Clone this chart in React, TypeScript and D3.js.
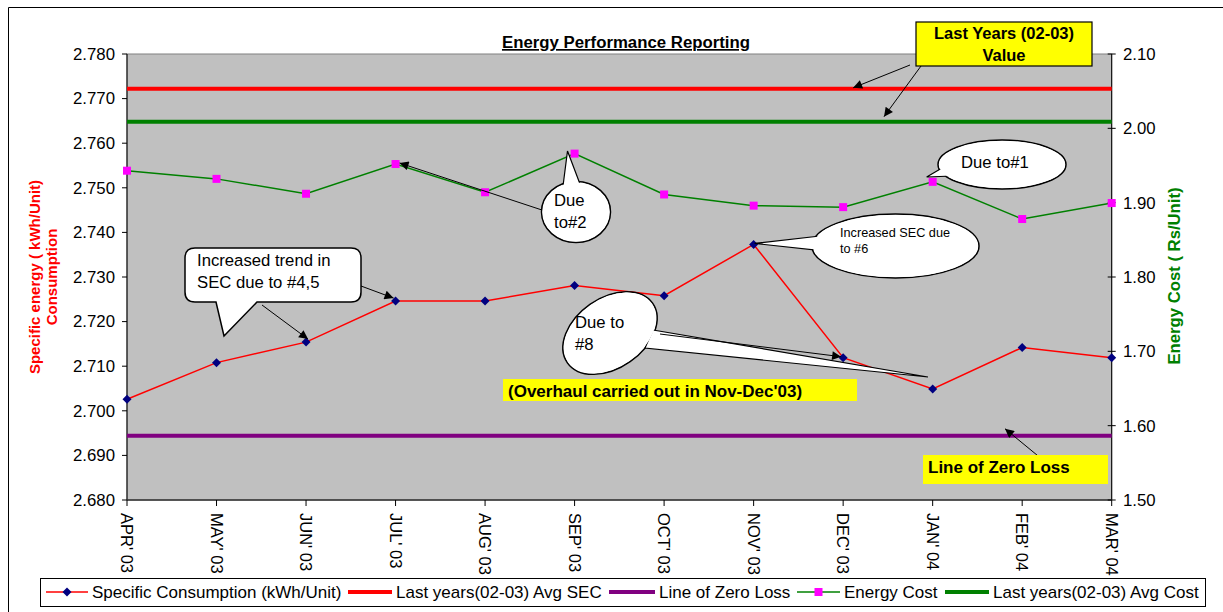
import React from 'react'
import * as d3 from 'd3'

const months = ["APR' 03", "MAY' 03", "JUN' 03", "JUL' 03", "AUG' 03", "SEP' 03", "OCT' 03", "NOV' 03", "DEC' 03", "JAN' 04", "FEB' 04", "MAR' 04"]
const secValues = [2.7026, 2.7108, 2.7154, 2.7246, 2.7246, 2.7281, 2.7258, 2.7373, 2.7119, 2.7049, 2.7142, 2.7119]
const costValues = [1.943, 1.932, 1.912, 1.952, 1.914, 1.966, 1.911, 1.896, 1.894, 1.928, 1.878, 1.8995]
const lastYearSec = 2.7722
const zeroLoss = 2.6944
const lastYearCost = 2.009
const leftTicks = [2.68, 2.69, 2.7, 2.71, 2.72, 2.73, 2.74, 2.75, 2.76, 2.77, 2.78]
const rightTicks = [1.5, 1.6, 1.7, 1.8, 1.9, 2.0, 2.1]

const legendItems = [
  { label: 'Specific Consumption (kWh/Unit)', x: 46, w: 42, color: '#ff0000', sw: 1.5, marker: 'diamond' },
  { label: 'Last years(02-03) Avg SEC', x: 348, w: 44, color: '#ff0000', sw: 4 },
  { label: 'Line of Zero Loss', x: 609, w: 46, color: '#800080', sw: 4 },
  { label: 'Energy Cost', x: 797, w: 43, color: '#008000', sw: 1.5, marker: 'square' },
  { label: 'Last years(02-03) Avg Cost', x: 945, w: 44, color: '#008000', sw: 4 },
]

const FONT = "'Liberation Sans', Arial, sans-serif"

function Diamond({ x, y }: { x: number; y: number }) {
  return <path d={`M${x},${y - 4.5}L${x + 4.5},${y}L${x},${y + 4.5}L${x - 4.5},${y}Z`} fill="#000080" />
}

function Square({ x, y }: { x: number; y: number }) {
  return <rect x={x - 4} y={y - 4} width={8} height={8} fill="#ff00ff" />
}

export default function App() {
  const left = 127
  const right = 1111.7
  const top = 54
  const bottom = 500

  const x = d3.scalePoint<string>().domain(months).range([left, right])
  const yL = d3.scaleLinear().domain([2.68, 2.78]).range([bottom, top])
  const yR = d3.scaleLinear().domain([1.5, 2.1]).range([bottom, top])

  const secLine = d3
    .line<number>()
    .x((_, i) => x(months[i]) as number)
    .y((d) => yL(d))
  const costLine = d3
    .line<number>()
    .x((_, i) => x(months[i]) as number)
    .y((d) => yR(d))

  const px = (i: number) => x(months[i]) as number

  return (
    <svg
      width={1223}
      height={612}
      style={{ position: 'absolute', left: 0, top: 0, background: '#fff' }}
      fontFamily={FONT}
    >
      <defs>
        <marker id="arr" viewBox="0 0 10 10" refX="10" refY="5" markerWidth="11" markerHeight="9" markerUnits="userSpaceOnUse" orient="auto">
          <path d="M0,0L10,5L0,10Z" fill="#000" />
        </marker>
      </defs>

      {/* outer chart border */}
      <path d="M8.5,612V7.5H1223" fill="none" stroke="#000" strokeWidth={1} />

      {/* plot area */}
      <rect x={left} y={top} width={right - left} height={bottom - top} fill="#c0c0c0" stroke="#808080" strokeWidth={1} />

      {/* title */}
      <text x={626} y={48} textAnchor="middle" fontSize={16.8} fontWeight="bold" textDecoration="underline">
        Energy Performance Reporting
      </text>

      {/* axes */}
      <line x1={left} x2={left} y1={top} y2={bottom} stroke="#000" />
      <line x1={right} x2={right} y1={top} y2={bottom} stroke="#000" />
      <line x1={left} x2={right} y1={bottom} y2={bottom} stroke="#333" strokeWidth={1.5} />
      {leftTicks.map((t) => (
        <g key={t}>
          <line x1={left - 5} x2={left} y1={yL(t)} y2={yL(t)} stroke="#000" />
          <text x={115} y={yL(t)} dy="0.35em" textAnchor="end" fontSize={16.8}>
            {t.toFixed(3)}
          </text>
        </g>
      ))}
      {rightTicks.map((t) => (
        <g key={t}>
          <line x1={right - 4} x2={right + 4} y1={yR(t)} y2={yR(t)} stroke="#000" />
          <text x={1123} y={yR(t)} dy="0.35em" textAnchor="start" fontSize={16.8}>
            {t.toFixed(2)}
          </text>
        </g>
      ))}
      {months.map((m) => (
        <g key={m}>
          <line x1={x(m)} x2={x(m)} y1={bottom} y2={bottom + 6} stroke="#000" />
          <text
            transform={`translate(${x(m)},${513}) rotate(90)`}
            dy="0.35em"
            textAnchor="start"
            fontSize={16.5}
          >
            {m}
          </text>
        </g>
      ))}

      {/* axis titles */}
      <text transform="translate(40,277) rotate(-90)" textAnchor="middle" fontSize={15} fontWeight="bold" fill="#ff0000">
        Specific energy ( kWh/Unit)
      </text>
      <text transform="translate(57,277) rotate(-90)" textAnchor="middle" fontSize={15} fontWeight="bold" fill="#ff0000">
        Consumption
      </text>
      <text transform="translate(1180,276) rotate(-90)" textAnchor="middle" fontSize={16.7} fontWeight="bold" fill="#008000">
        Energy Cost ( Rs/Unit)
      </text>

      {/* reference lines */}
      <line x1={left} x2={right} y1={yL(lastYearSec)} y2={yL(lastYearSec)} stroke="#ff0000" strokeWidth={4} />
      <line x1={left} x2={right} y1={yR(lastYearCost)} y2={yR(lastYearCost)} stroke="#008000" strokeWidth={4} />
      <line x1={left} x2={right} y1={yL(zeroLoss)} y2={yL(zeroLoss)} stroke="#800080" strokeWidth={4} />

      {/* series */}
      <path d={costLine(costValues) || ''} fill="none" stroke="#008000" strokeWidth={1.5} />
      {costValues.map((v, i) => (
        <Square key={i} x={px(i)} y={yR(v)} />
      ))}
      <path d={secLine(secValues) || ''} fill="none" stroke="#ff0000" strokeWidth={1.5} />
      {secValues.map((v, i) => (
        <Diamond key={i} x={px(i)} y={yL(v)} />
      ))}

      {/* Last Years box */}
      <line x1={910} y1={65} x2={px(8) + 10} y2={yL(lastYearSec) - 1} stroke="#000" markerEnd="url(#arr)" />
      <line x1={921} y1={66} x2={884} y2={yR(lastYearCost) - 5} stroke="#000" markerEnd="url(#arr)" />
      <rect x={916} y={22} width={176} height={44} fill="#ffff00" stroke="#000" strokeWidth={1.2} />
      <text x={1004} y={39} textAnchor="middle" fontSize={16.5} fontWeight="bold">Last Years (02-03)</text>
      <text x={1004} y={61} textAnchor="middle" fontSize={16.5} fontWeight="bold">Value</text>

      {/* Due to#2 */}
      <line x1={548} y1={212} x2={px(3) + 4} y2={yR(costValues[3]) - 1} stroke="#000" markerEnd="url(#arr)" />
      <ellipse cx={576} cy={212} rx={34.5} ry={30.5} fill="#fff" stroke="#000" strokeWidth={1.5} />
      <path d="M563,186L567.5,151L580,184Z" fill="#fff" stroke="#000" strokeWidth={1.2} />
      <ellipse cx={576} cy={212} rx={33.5} ry={29.5} fill="#fff" />
      <text x={554} y={206} fontSize={16.7}>Due</text>
      <text x={554} y={228} fontSize={16.7}>to#2</text>

      {/* Due to#1 */}
      <ellipse cx={1002} cy={164.5} rx={64} ry={24.5} fill="#fff" stroke="#000" strokeWidth={1.5} />
      <path d={`M942,168L${px(9) - 6},177L952,176Z`} fill="#fff" stroke="#000" strokeWidth={1.2} />
      <ellipse cx={1002} cy={164.5} rx={63} ry={23.5} fill="#fff" />
      <text x={961} y={168} fontSize={16.7}>Due to#1</text>

      {/* Increased SEC #6 */}
      <ellipse cx={895.5} cy={246} rx={83.5} ry={32} fill="#fff" stroke="#000" strokeWidth={1.5} />
      <path d={`M820,236L${px(7) + 1},${yL(secValues[7]) - 1}L816,250Z`} fill="#fff" stroke="#000" strokeWidth={1.2} />
      <ellipse cx={895.5} cy={246} rx={82.5} ry={31} fill="#fff" />
      <text x={840} y={237} fontSize={12.7}>Increased SEC due</text>
      <text x={840} y={253} fontSize={12.7}>to #6</text>

      {/* Increased trend callout */}
      <line x1={361} y1={286} x2={px(3) - 2} y2={yL(secValues[3]) - 3} stroke="#000" markerEnd="url(#arr)" />
      <line x1={262} y1={305} x2={px(2) + 2} y2={yL(secValues[2]) - 3} stroke="#000" markerEnd="url(#arr)" />
      <path
        d="M195,248H351Q361,248 361,258V292Q361,302 351,302H257L224,336L216,302H195Q185,302 185,292V258Q185,248 195,248Z"
        fill="#fff"
        stroke="#000"
        strokeWidth={1.5}
      />
      <text x={197} y={266} fontSize={16.7}>Increased trend in</text>
      <text x={197} y={288} fontSize={16.7}>SEC due to #4,5</text>

      {/* Due to #8 */}
      <ellipse cx={610} cy={333} rx={52} ry={35} transform="rotate(-35,610,333)" fill="#fff" stroke="#000" strokeWidth={1.5} />
      <path d="M653,330L928,377L645,348Z" fill="#fff" stroke="#000" strokeWidth={1.2} />
      <ellipse cx={610} cy={333} rx={51} ry={34} transform="rotate(-35,610,333)" fill="#fff" />
      <line x1={660} y1={334} x2={px(8) - 2} y2={yL(secValues[8]) - 1} stroke="#000" markerEnd="url(#arr)" />
      <text x={575} y={328} fontSize={16.7}>Due to</text>
      <text x={575} y={350} fontSize={16.7}>#8</text>

      {/* Overhaul */}
      <rect x={503} y={379} width={354} height={22} fill="#ffff00" />
      <text x={508} y={397} fontSize={17} fontWeight="bold">(Overhaul carried out in Nov-Dec'03)</text>

      {/* Line of zero loss */}
      <line x1={1043} y1={460} x2={1005} y2={yL(zeroLoss) - 7} stroke="#000" markerEnd="url(#arr)" />
      <rect x={923} y={455} width={185} height={29} fill="#ffff00" />
      <text x={928} y={473} fontSize={17} fontWeight="bold">Line of Zero Loss</text>

      {/* legend */}
      <rect x={40.5} y={578.5} width={1165} height={28} fill="#fff" stroke="#000" strokeWidth={1} />
      {legendItems.map((it) => (
        <g key={it.label}>
          <line x1={it.x} x2={it.x + it.w} y1={592} y2={592} stroke={it.color} strokeWidth={it.sw} />
          {it.marker === 'diamond' && <Diamond x={it.x + it.w / 2} y={592} />}
          {it.marker === 'square' && <Square x={it.x + it.w / 2} y={592} />}
          <text x={it.x + it.w + 4} y={598} fontSize={17}>
            {it.label}
          </text>
        </g>
      ))}
    </svg>
  )
}
